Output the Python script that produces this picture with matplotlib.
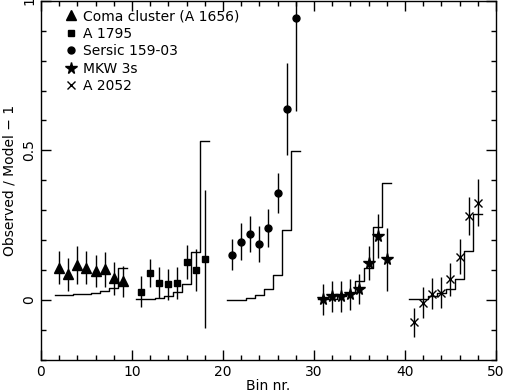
import numpy as np
import matplotlib
matplotlib.use('Agg')
import matplotlib.pyplot as plt
from matplotlib.ticker import MultipleLocator

# Coma cluster (A 1656)
coma_bin = [2, 3, 4, 5, 6, 7, 8, 9]
coma_val = [0.108, 0.086, 0.116, 0.108, 0.097, 0.102, 0.073, 0.063]
coma_err = [0.056, 0.056, 0.064, 0.055, 0.054, 0.057, 0.055, 0.052]
coma_mod = [0.017, 0.018, 0.019, 0.021, 0.024, 0.030, 0.039, 0.106]

# A 1795
a1795_bin = [11, 12, 13, 14, 15, 16, 17, 18]
a1795_val = [0.028, 0.091, 0.058, 0.052, 0.058, 0.128, 0.099, 0.138]
a1795_err = [0.051, 0.047, 0.052, 0.052, 0.053, 0.057, 0.070, 0.230]
a1795_mod = [0.002, 0.002, 0.007, 0.012, 0.028, 0.052, 0.160, 0.530]

# Sersic 159-03
sersic_bin = [21, 22, 23, 24, 25, 26, 27, 28]
sersic_val = [0.152, 0.195, 0.221, 0.186, 0.241, 0.358, 0.639, 0.941]
sersic_err = [0.053, 0.061, 0.060, 0.060, 0.063, 0.068, 0.154, 0.310]
sersic_mod = [0.000, 0.000, 0.008, 0.017, 0.036, 0.082, 0.233, 0.499]

# MKW 3s
mkw_bin = [31, 32, 33, 34, 35, 36, 37, 38]
mkw_val = [0.002, 0.013, 0.013, 0.019, 0.036, 0.125, 0.214, 0.136]
mkw_err = [0.052, 0.052, 0.052, 0.052, 0.050, 0.057, 0.072, 0.105]
mkw_mod = [0.002, 0.002, 0.013, 0.025, 0.063, 0.108, 0.243, 0.390]

# A 2052
a2052_bin = [41, 42, 43, 44, 45, 46, 47, 48]
a2052_val = [-0.075, -0.009, 0.021, 0.025, 0.069, 0.145, 0.280, 0.325]
a2052_err = [0.047, 0.051, 0.052, 0.052, 0.054, 0.058, 0.064, 0.079]
a2052_mod = [0.005, 0.005, 0.013, 0.022, 0.038, 0.069, 0.163, 0.286]

plt.rcParams['font.family'] = ['DejaVu Sans']
plt.rcParams['font.size'] = 10

fig = plt.figure(figsize=[5.05, 3.92], dpi=100)
ax = fig.add_axes([0.081, 0.082, 0.901, 0.916])

grupos = [
    (coma_bin, coma_val, coma_err, coma_mod, '^', 7, 'Coma cluster (A 1656)'),
    (a1795_bin, a1795_val, a1795_err, a1795_mod, 's', 5, 'A 1795'),
    (sersic_bin, sersic_val, sersic_err, sersic_mod, 'o', 5, 'Sersic 159-03'),
    (mkw_bin, mkw_val, mkw_err, mkw_mod, '*', 8.5, 'MKW 3s'),
    (a2052_bin, a2052_val, a2052_err, a2052_mod, 'x', 6, 'A 2052'),
]

for b, v, e, m, mk, ms, lab in grupos:
    b = np.array(b, dtype=float)
    # modelo como escalones
    xs = np.concatenate([[b[0] - 0.5], b + 0.5])
    ys = np.concatenate([[m[0]], m])
    ax.step(xs, ys, where='pre', color='k', lw=1.0)
    ax.errorbar(b, v, yerr=e, fmt='none', ecolor='k', elinewidth=1.0, capsize=0)
    ax.plot(b, v, linestyle='none', marker=mk, markersize=ms, color='k',
            markeredgewidth=1.0, label=lab)

ax.set_xlim(0, 50)
ax.set_ylim(-0.2, 1)
ax.xaxis.set_major_locator(MultipleLocator(10))
ax.xaxis.set_minor_locator(MultipleLocator(2))
ax.yaxis.set_major_locator(MultipleLocator(0.5))
ax.yaxis.set_minor_locator(MultipleLocator(0.1))
ax.yaxis.set_major_formatter(plt.FuncFormatter(lambda v, p: '%g' % v))
ax.tick_params(which='both', direction='in', top=True, right=True)
ax.tick_params(which='major', length=7, width=1)
ax.tick_params(which='minor', length=3.5, width=1)
ax.tick_params(axis='y', labelrotation=90)
for lbl in ax.get_yticklabels():
    lbl.set_verticalalignment('center')
for s in ax.spines.values():
    s.set_linewidth(1)

ax.set_xlabel('Bin nr.', labelpad=0)
ax.set_ylabel('Observed / Model \u2212 1', labelpad=4)

ax.legend(loc='upper left', bbox_to_anchor=(0.035, 1.0), frameon=False,
          handlelength=0.8, handletextpad=0.5, labelspacing=0.25,
          borderaxespad=0.3, borderpad=0.3, numpoints=1)

plt.savefig('out.png', dpi=100)
